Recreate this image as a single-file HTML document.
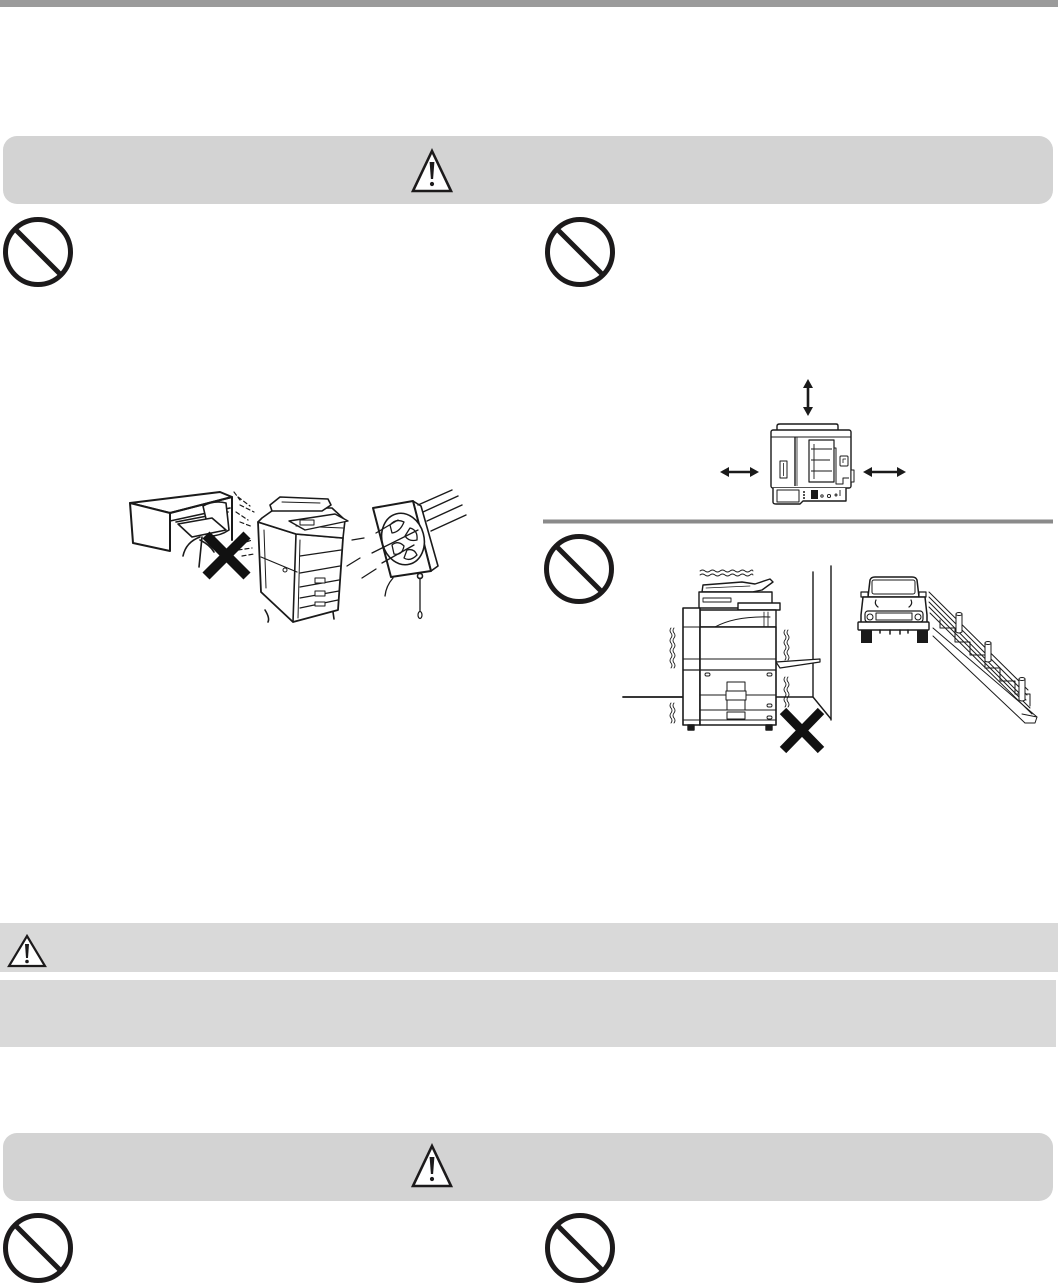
<!DOCTYPE html>
<html><head><meta charset="utf-8"><style>
html,body{margin:0;padding:0;background:#fff;}
body{width:1058px;height:1285px;overflow:hidden;position:relative;font-family:"Liberation Sans",sans-serif;}
svg{display:block;}
</style></head><body>
<svg width="1058" height="1285" viewBox="0 0 1058 1285" xmlns="http://www.w3.org/2000/svg">
<defs>
 <g id="no">
  <circle cx="0" cy="0" r="32.5" fill="none" stroke="#1c1a1b" stroke-width="5"/>
  <line x1="-23" y1="-23" x2="23" y2="23" stroke="#1c1a1b" stroke-width="5"/>
 </g>
 <g id="warn">
  <path d="M0,-20 L19,20 L-19,20 Z" fill="#fff" stroke="#1c1a1b" stroke-width="2.6" stroke-linejoin="miter"/>
  <path d="M-2.4,-9 L2.4,-9 L1.1,8 L-1.1,8 Z" fill="#1c1a1b"/>
  <circle cx="0" cy="13" r="2.1" fill="#1c1a1b"/>
 </g>
</defs>

<!-- top bar -->
<rect x="0" y="0" width="1058" height="7" fill="#9b9b9b"/>

<!-- warning box 1 -->
<rect x="3" y="136" width="1050" height="68" rx="14" ry="14" fill="#d3d3d3"/>
<use href="#warn" transform="translate(432,171)"/>

<!-- prohibition icons -->
<use href="#no" transform="translate(38,252)"/>
<use href="#no" transform="translate(580,252)"/>
<use href="#no" transform="translate(579,569)"/>
<use href="#no" transform="translate(38,1248)"/>
<use href="#no" transform="translate(580,1248)"/>

<!-- divider -->
<line x1="543" y1="521.5" x2="1053" y2="521.5" stroke="#8a8a8a" stroke-width="4"/>

<!-- ===== Fan scene ===== -->
<g fill="#fff" stroke="#1a1a1a" stroke-width="1.6" stroke-linejoin="round" stroke-linecap="round">
 <!-- desk -->
 <path d="M130,503 L220,492 L232,497 L170,513 Z" stroke-width="2"/>
 <path d="M130,503 L170,513 L170,551 L133,543 Z" stroke-width="2"/>
 <path d="M170,513 L232,497 L232,540" fill="none" stroke-width="2"/>
 <path d="M170,521 L230,508" fill="none"/>
 <path d="M176,522 L228,512" fill="none"/>
 <!-- chair -->
 <path d="M203,506 Q214,500 226,503 L229,530 Q220,536 210,536 Z" fill="#fff"/>
 <path d="M178,524 L212,518 L226,530 L192,537 Z" fill="#fff"/>
 <path d="M200,537 Q186,542 183,556" fill="none"/>
 <path d="M202,537 L199,567" fill="none"/>
 <path d="M200,540 Q210,545 214,552" fill="none"/>
 <!-- air dashes -->
 <g fill="none" stroke-width="1.2" stroke-dasharray="4 3">
  <path d="M234,492 L240,500"/><path d="M238,497 L250,506"/><path d="M240,505 L254,512"/>
  <path d="M236,512 L248,520"/><path d="M240,522 L253,527"/>
  <path d="M240,544 L252,540"/><path d="M238,550 L252,548"/><path d="M242,556 L254,554"/>
 </g>
 <!-- printer body -->
 <path d="M258,522 L296,534 L343,538 L338,610 L293,622 L261,592 Z" stroke-width="1.8"/>
 <path d="M296,534 L293,622" fill="none"/>
 <path d="M300,540 L298,618" fill="none" stroke-width="1"/>
 <path d="M261,557 L297,572" fill="none" stroke-width="1.2"/>
 <path d="M264,530 L266,588" fill="none" stroke-width="1"/>
 <circle cx="285" cy="570" r="2" fill="#fff" stroke-width="1"/>
 <g fill="none" stroke-width="1.2">
  <path d="M300,573 L340,566"/><path d="M300,587 L339,580"/><path d="M300,598 L339,591"/><path d="M300,608 L338,600"/>
  <path d="M300,556 L341,550"/>
 </g>
 <rect x="315" y="578" width="10" height="5" stroke-width="1"/>
 <rect x="315" y="591" width="10" height="5" stroke-width="1"/>
 <rect x="315" y="602" width="10" height="4" stroke-width="1"/>
 <path d="M265,610 Q270,618 268,622 M333,612 L334,619" fill="none"/>
 <!-- scanner / top -->
 <path d="M262,518 L276,508 L332,508 L345,520 L343,538 L296,534 L258,522 Z" stroke-width="1.6"/>
 <path d="M296,526 L343,528" fill="none" stroke-width="1"/>
 <path d="M289,521 L335,514 L348,521 L305,530 Z" stroke-width="1.4"/>
 <rect x="300" y="520" width="14" height="5" stroke-width="1"/>
 <!-- ADF -->
 <path d="M270,505 L280,497 L328,499 L331,505 L322,511 L272,511 Z" stroke-width="1.6"/>
 <path d="M282,502 L320,503" fill="none" stroke-width="1"/>
 <!-- fan -->
 <path d="M413,501 L421,506 L438,566 L431,571 Z" stroke-width="1.6"/>
 <path d="M373,508 L413,501 L431,571 L391,577 Z" stroke-width="2"/>
 <ellipse cx="403" cy="539" rx="21" ry="26" transform="rotate(-15 403 539)" fill="#fff" stroke-width="1.6"/>
 <g fill="none" stroke-width="1.3">
  <path d="M390,525 Q396,518 404,522 Q400,532 392,533 Z"/>
  <path d="M410,528 Q418,530 417,540 Q409,542 405,536 Z"/>
  <path d="M392,545 Q398,540 404,546 Q402,556 394,554 Z"/>
  <path d="M407,550 Q414,548 417,555 Q410,562 404,558 Z"/>
 </g>
 <circle cx="420" cy="576" r="2.5" fill="#fff"/>
 <line x1="420" y1="578" x2="420" y2="612" stroke-width="1.3"/>
 <ellipse cx="420" cy="615" rx="2" ry="3.5" fill="#fff" stroke-width="1.2"/>
 <g fill="none" stroke-width="1.4">
  <path d="M418,505 L452,490"/><path d="M423,512 L458,496"/><path d="M427,521 L462,505"/><path d="M431,531 L466,515"/>
 </g>
 <g fill="none" stroke-width="1.3">
  <path d="M352,540 L364,538"/><path d="M376,533 L398,520"/>
  <path d="M347,566 L360,558"/><path d="M372,553 L418,530"/>
  <path d="M362,578 L376,569"/><path d="M382,563 L414,545"/>
  <path d="M385,596 Q386,586 393,578"/>
 </g>
</g>
<!-- X on fan scene -->
<g stroke="#111" stroke-width="10" stroke-linecap="butt">
 <line x1="206" y1="535" x2="247" y2="576"/>
 <line x1="247" y1="535" x2="206" y2="576"/>
</g>

<!-- ===== Top-view printer with arrows ===== -->
<g stroke="#1a1a1a" fill="#1a1a1a">
 <line x1="808" y1="384" x2="808" y2="411" stroke-width="2.6"/>
 <polygon points="808,379 803,388 813,388" stroke="none"/>
 <polygon points="808,416 803,407 813,407" stroke="none"/>
 <line x1="726" y1="472" x2="753" y2="472" stroke-width="2.6"/>
 <polygon points="720,472 729,467 729,477" stroke="none"/>
 <polygon points="759,472 750,467 750,477" stroke="none"/>
 <line x1="869" y1="472" x2="900" y2="472" stroke-width="2.6"/>
 <polygon points="863,472 872,467 872,477" stroke="none"/>
 <polygon points="906,472 897,467 897,477" stroke="none"/>
</g>
<g fill="#fff" stroke="#1a1a1a" stroke-width="1.4" stroke-linejoin="round">
 <path d="M777,430 L777,426 Q777,424 780,424 L836,424 Q838,424 838,426 L838,430" fill="none"/>
 <rect x="771" y="430" width="80" height="58" rx="2"/>
 <line x1="771" y1="437" x2="851" y2="437" stroke-width="1"/>
 <line x1="795" y1="437" x2="795" y2="486"/>
 <line x1="797" y1="437" x2="797" y2="486" stroke-width="0.8"/>
 <rect x="780" y="461" width="7" height="17" stroke-width="1"/>
 <line x1="783.5" y1="463" x2="783.5" y2="476" stroke-width="0.8"/>
 <rect x="809" y="440" width="25" height="42" stroke-width="1.2"/>
 <path d="M811,449 L832,449 M811,460 L830,460 M811,471 L832,471 M814,444 L814,479" fill="none" stroke-width="0.9"/>
 <path d="M834,448 L836,448 L836,484 L843,484 L843,478 L849,478" fill="none" stroke-width="1"/>
 <rect x="840" y="456" width="8" height="10" rx="1" stroke-width="1"/>
 <path d="M843,463 L843,459 L846,459" fill="none" stroke-width="0.8"/>
 <rect x="851" y="470" width="3" height="12" stroke-width="1"/>
 <path d="M773,488 L773,502 Q773,504 776,504 L800,504 L803,501 L846,501 L846,488" />
 <rect x="777" y="490" width="22" height="12" stroke-width="1"/>
 <g fill="#1a1a1a" stroke="none">
  <circle cx="804" cy="492" r="1"/><circle cx="804" cy="495" r="1"/><circle cx="804" cy="498" r="1"/>
  <rect x="811" y="490" width="7" height="9"/>
 </g>
 <g fill="none" stroke-width="0.9">
  <circle cx="822" cy="496" r="1.2"/><circle cx="829" cy="496" r="1.6"/><circle cx="836" cy="495" r="1"/>
  <path d="M840,490 L840,496"/>
 </g>
</g>

<!-- ===== Bottom-right scene ===== -->
<g fill="#fff" stroke="#1a1a1a" stroke-width="1.4" stroke-linejoin="round" stroke-linecap="round">
 <!-- heat wavy lines -->
 <path d="M700,571 q2.5,-2 5,0 t5,0 t5,0 t5,0 t5,0 t5,0 t5,0 t5,0 t5,0 t5,0 t3,0" fill="none" stroke-width="0.9"/>
 <path d="M700,575 q2.5,-2 5,0 t5,0 t5,0 t5,0 t5,0 t5,0 t5,0 t5,0 t5,0 t5,0 t3,0" fill="none" stroke-width="0.9"/>
 <!-- vibration lines -->
 <g fill="none" stroke-width="0.9">
  <path d="M671,628 q-2,2.5 0,5 t0,5 t0,5 t0,5 t0,5 t0,5 t0,5 t0,5"/>
  <path d="M674,628 q-2,2.5 0,5 t0,5 t0,5 t0,5 t0,5 t0,5 t0,5 t0,5"/>
  <path d="M671,703 q-2,2.5 0,5 t0,5 t0,5 t0,5"/>
  <path d="M674,703 q-2,2.5 0,5 t0,5 t0,5 t0,5"/>
  <path d="M785,630 q-2,2.5 0,5 t0,5 t0,5 t0,5 t0,5 t0,5"/>
  <path d="M788,630 q-2,2.5 0,5 t0,5 t0,5 t0,5 t0,5 t0,5"/>
  <path d="M785,677 q-2,2.5 0,5 t0,5 t0,5 t0,5 t0,5 t0,5"/>
  <path d="M788,677 q-2,2.5 0,5 t0,5 t0,5 t0,5 t0,5 t0,5"/>
 </g>
 <!-- floor and wall -->
 <path d="M623,697 L683,697" fill="none" stroke-width="1.8"/>
 <path d="M776,697 L813,697" fill="none" stroke-width="1.4"/>
 <path d="M813,572 L813,697 L831,719" fill="none" stroke-width="1.4"/>
 <path d="M831,566 L831,720" fill="none" stroke-width="1.4"/>
 <!-- printer -->
 <path d="M702,592 L703,585 L742,582 L755,584 L770,579 L773,582 L762,590 L752,592 Z"/>
 <path d="M706,588 L750,586" fill="none" stroke-width="0.8"/>
 <rect x="699" y="592" width="73" height="16"/>
 <rect x="703" y="598" width="28" height="4" stroke-width="0.9"/>
 <rect x="738" y="603" width="42" height="7"/>
 <path d="M700,610 L776,610 L776,627 L700,627 Z"/>
 <path d="M715,627 Q735,616 770,617" fill="none" stroke-width="1"/>
 <path d="M764,612 L764,627 M768,612 L768,627" fill="none" stroke-width="0.8"/>
 <rect x="683" y="608" width="17" height="117" stroke-width="1.6"/>
 <line x1="683" y1="627" x2="700" y2="627" stroke-width="1"/>
 <rect x="700" y="627" width="76" height="98" stroke-width="1.6"/>
 <line x1="683" y1="659" x2="776" y2="659" stroke-width="1"/>
 <line x1="683" y1="670" x2="776" y2="670" stroke-width="1.2"/>
 <line x1="700" y1="695" x2="776" y2="695" stroke-width="1"/>
 <line x1="700" y1="710" x2="776" y2="710" stroke-width="1"/>
 <line x1="683" y1="720" x2="776" y2="720" stroke-width="1"/>
 <rect x="705" y="673" width="5" height="3" rx="1.5" stroke-width="0.9"/>
 <rect x="767" y="673" width="5" height="3" rx="1.5" stroke-width="0.9"/>
 <rect x="767" y="704" width="5" height="3" rx="1.5" stroke-width="0.9"/>
 <rect x="767" y="716" width="5" height="3" rx="1.5" stroke-width="0.9"/>
 <rect x="727" y="682" width="18" height="9" stroke-width="1"/>
 <rect x="726" y="691" width="20" height="9" stroke-width="1"/>
 <rect x="727" y="700" width="18" height="10" stroke-width="1"/>
 <rect x="727" y="712" width="18" height="7" stroke-width="1"/>
 <rect x="688" y="725" width="6" height="5" fill="#1a1a1a"/>
 <rect x="766" y="725" width="6" height="5" fill="#1a1a1a"/>
 <path d="M776,662 L820,659 L820,662 L780,668 Z" stroke-width="1.2"/>
 <!-- car -->
 <path d="M868,597 L870,580 Q871,577 875,577 L912,577 Q916,577 917,580 L919,597 Z" stroke-width="1.5"/>
 <rect x="872" y="580" width="43" height="14" rx="2" stroke-width="1"/>
 <rect x="861" y="592" width="7" height="5" stroke-width="1.2"/>
 <rect x="919" y="592" width="7" height="5" stroke-width="1.2"/>
 <path d="M863,597 L925,597 L927,615 L927,624 L861,624 L861,615 Z" stroke-width="1.5"/>
 <path d="M876,600 Q874,604 878,607 M911,600 Q913,604 909,607" fill="none" stroke-width="1.2"/>
 <rect x="865" y="611" width="58" height="11" rx="3" stroke-width="1.2"/>
 <rect x="876" y="613" width="36" height="7" stroke-width="1"/>
 <circle cx="870" cy="617" r="3" stroke-width="1"/>
 <circle cx="918" cy="617" r="3" stroke-width="1"/>
 <rect x="858" y="622" width="71" height="8" rx="1" stroke-width="1.4"/>
 <rect x="861" y="630" width="11" height="13" fill="#1a1a1a" stroke="none"/>
 <rect x="917" y="630" width="11" height="13" fill="#1a1a1a" stroke="none"/>
 <path d="M880,630 L880,633 M890,630 L890,634 M900,630 L900,634 M908,630 L908,633" fill="none" stroke-width="1.5"/>
 <!-- stairs & guardrail -->
 <g fill="none" stroke-width="1">
  <path d="M929,592 L1028,690"/>
  <path d="M929,597 L1027,695"/>
  <path d="M929,602 L1026,700"/>
  <path d="M929,607 L1030,708"/>
  <path d="M930,613 L1032,714"/>
  <path d="M933,628 L1037,717"/>
  <path d="M933,636 L1025,723"/>
  <path d="M940,620 L940,628 L955,628 L955,642 L970,642 L970,655 L985,655 L985,668 L1000,668 L1000,681 L1015,681 L1015,694 L1030,694 L1030,706"/>
  <path d="M1022,714 L1037,717 L1035,723 L1025,723"/>
 </g>
 <path d="M956,614 L956,632 Q959,634 962,632 L962,614 Z" stroke-width="1"/>
 <ellipse cx="959" cy="614" rx="3" ry="1.5" stroke-width="1"/>
 <path d="M985,643 L985,661 Q988,663 991,661 L991,643 Z" stroke-width="1"/>
 <ellipse cx="988" cy="643" rx="3" ry="1.5" stroke-width="1"/>
 <path d="M1019,679 L1019,700 Q1022,702 1025,700 L1025,679 Z" stroke-width="1"/>
 <ellipse cx="1022" cy="679" rx="3" ry="1.5" stroke-width="1"/>
</g>
<!-- X on bottom-right scene -->
<g stroke="#111" stroke-width="9" stroke-linecap="butt">
 <line x1="783" y1="711" x2="821" y2="750"/>
 <line x1="821" y1="711" x2="783" y2="750"/>
</g>

<!-- caution bar -->
<rect x="0" y="923" width="1058" height="49" fill="#d9d9d9"/>
<path d="M27,936 L45,966 L9,966 Z" fill="#fff" stroke="#1c1a1b" stroke-width="2.2" stroke-linejoin="miter"/>
<path d="M25,944 L29,944 L28,958 L26,958 Z" fill="#1c1a1b"/>
<circle cx="27" cy="961.5" r="1.8" fill="#1c1a1b"/>

<rect x="0" y="980" width="1056" height="67" fill="#d9d9d9"/>

<!-- warning box 2 -->
<rect x="3" y="1133" width="1050" height="68" rx="14" ry="14" fill="#d3d3d3"/>
<use href="#warn" transform="translate(432,1166)"/>
</svg>
</body></html>
